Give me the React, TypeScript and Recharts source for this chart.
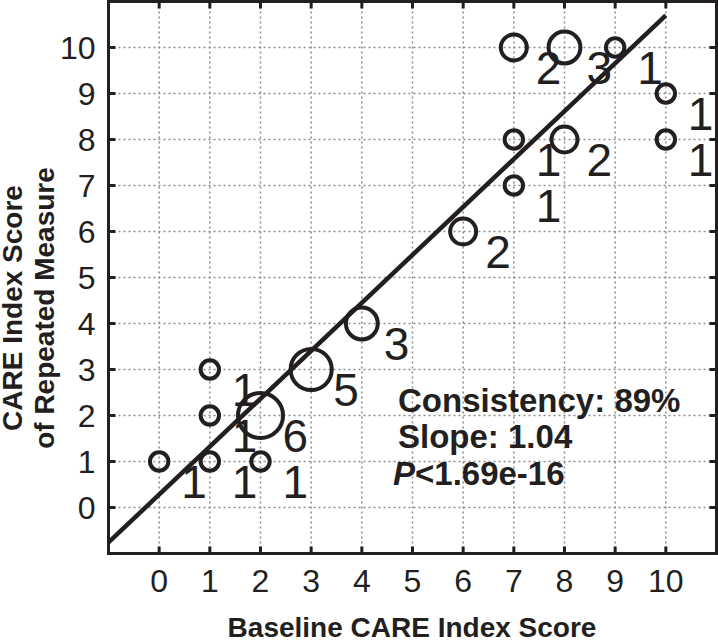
import React from "react";
import {
  ScatterChart,
  Scatter,
  XAxis,
  YAxis,
  CartesianGrid,
  ReferenceLine,
  Customized,
} from "recharts";

// one entry per bubble: baseline score, repeated score, number of subjects
const baselineScores = [0, 1, 1, 1, 2, 2, 3, 4, 6, 7, 7, 8, 7, 8, 9, 10, 10];
const repeatedScores = [1, 1, 2, 3, 1, 2, 3, 4, 6, 7, 8, 8, 10, 10, 10, 9, 8];
const subjectCounts = [1, 1, 1, 1, 1, 6, 5, 3, 2, 1, 1, 2, 2, 3, 1, 1, 1];

const tickValues = [0, 1, 2, 3, 4, 5, 6, 7, 8, 9, 10];

// fitted line end points
const fitX = [-1, 10];
const fitY = [-0.76, 10.7];

const consistencyText = "Consistency: 89%";
const slopeText = "Slope: 1.04";
const pText = "<1.69e-16";

const INK = "#231f20";
const FONT = '"Liberation Sans", Arial, Helvetica, sans-serif';

const points = baselineScores.map((x, i) => ({
  x,
  y: repeatedScores[i],
  n: subjectCounts[i],
}));

const BottomTick = (props: any) => {
  const { x, y, payload } = props;
  return (
    <g>
      <line x1={x} x2={x} y1={y} y2={y - 7} stroke={INK} strokeWidth={3} />
      <text x={x} y={y + 38.5} textAnchor="middle" fontSize={32} fill={INK} fontFamily={FONT}>
        {payload.value}
      </text>
    </g>
  );
};

const TopTick = (props: any) => {
  const { x, y } = props;
  return <line x1={x} x2={x} y1={y} y2={y + 7} stroke={INK} strokeWidth={3} />;
};

const LeftTick = (props: any) => {
  const { x, y, payload } = props;
  return (
    <g>
      <line x1={x} x2={x + 7} y1={y} y2={y} stroke={INK} strokeWidth={3} />
      <text x={x - 13} y={y + 11.5} textAnchor="end" fontSize={32} fill={INK} fontFamily={FONT}>
        {payload.value}
      </text>
    </g>
  );
};

const RightTick = (props: any) => {
  const { x, y } = props;
  return <line x1={x - 7} x2={x} y1={y} y2={y} stroke={INK} strokeWidth={3} />;
};

const Bubble = (props: any) => {
  const { cx, cy, payload } = props;
  const r = 9.2 * Math.sqrt(payload.n);
  return (
    <g>
      <circle cx={cx} cy={cy} r={r} fill="none" stroke={INK} strokeWidth={4} />
      <text x={cx + 22} y={cy + 36} fontSize={46} fill={INK} fontFamily={FONT}>
        {payload.n}
      </text>
    </g>
  );
};

const Annotations = () => (
  <g fontFamily={FONT} fill={INK} fontWeight="bold">
    <text x={398} y={412} fontSize={33}>
      {consistencyText}
    </text>
    <text x={398} y={448} fontSize={33}>
      {slopeText}
    </text>
    <text x={393} y={485} fontSize={33}>
      <tspan fontStyle="italic">P</tspan>
      <tspan>{pText}</tspan>
    </text>
    <text x={412} y={637} fontSize={28} textAnchor="middle">
      Baseline CARE Index Score
    </text>
    <text
      x={22}
      y={308}
      fontSize={28}
      textAnchor="middle"
      transform="rotate(-90 22 308)"
    >
      CARE Index Score
    </text>
    <text
      x={54}
      y={308}
      fontSize={28}
      textAnchor="middle"
      transform="rotate(-90 54 308)"
    >
      of Repeated Measure
    </text>
  </g>
);

const axisLineStyle = { stroke: INK, strokeWidth: 3, strokeLinecap: "square" as const };

export default function App() {
  return (
    <div style={{ position: "absolute", left: 0, top: 0, width: 718, height: 640, background: "#fff" }}>
      <ScatterChart
        width={718}
        height={640}
        margin={{ top: 0.5, right: 0.5, bottom: 6.5, left: 8.5 }}
      >
        <CartesianGrid stroke="#8c8c8c" strokeDasharray="2 3" strokeWidth={1.5} />
        <XAxis
          type="number"
          dataKey="x"
          domain={[-1, 11]}
          ticks={tickValues}
          allowDataOverflow
          height={80}
          tickSize={0}
          tickMargin={0}
          tickLine={false}
          axisLine={axisLineStyle}
          tick={(p: any) => <BottomTick {...p} />}
          interval={0}
        />
        <XAxis
          xAxisId="top"
          orientation="top"
          type="number"
          dataKey="x"
          domain={[-1, 11]}
          ticks={tickValues}
          allowDataOverflow
          height={1}
          tickSize={0}
          tickMargin={0}
          tickLine={false}
          axisLine={axisLineStyle}
          tick={(p: any) => <TopTick {...p} />}
          interval={0}
        />
        <YAxis
          type="number"
          dataKey="y"
          domain={[-1, 11]}
          ticks={tickValues}
          allowDataOverflow
          width={100}
          tickSize={0}
          tickMargin={0}
          tickLine={false}
          axisLine={axisLineStyle}
          tick={(p: any) => <LeftTick {...p} />}
          interval={0}
        />
        <YAxis
          yAxisId="right"
          orientation="right"
          type="number"
          dataKey="y"
          domain={[-1, 11]}
          ticks={tickValues}
          allowDataOverflow
          width={1}
          tickSize={0}
          tickMargin={0}
          tickLine={false}
          axisLine={axisLineStyle}
          tick={(p: any) => <RightTick {...p} />}
          interval={0}
        />
        <ReferenceLine
          segment={[
            { x: fitX[0], y: fitY[0] },
            { x: fitX[1], y: fitY[1] },
          ]}
          stroke={INK}
          strokeWidth={4.5}
        />
        <Scatter
          data={points}
          isAnimationActive={false}
          shape={(p: any) => <Bubble {...p} />}
        />
        <Customized component={Annotations} />
      </ScatterChart>
    </div>
  );
}
